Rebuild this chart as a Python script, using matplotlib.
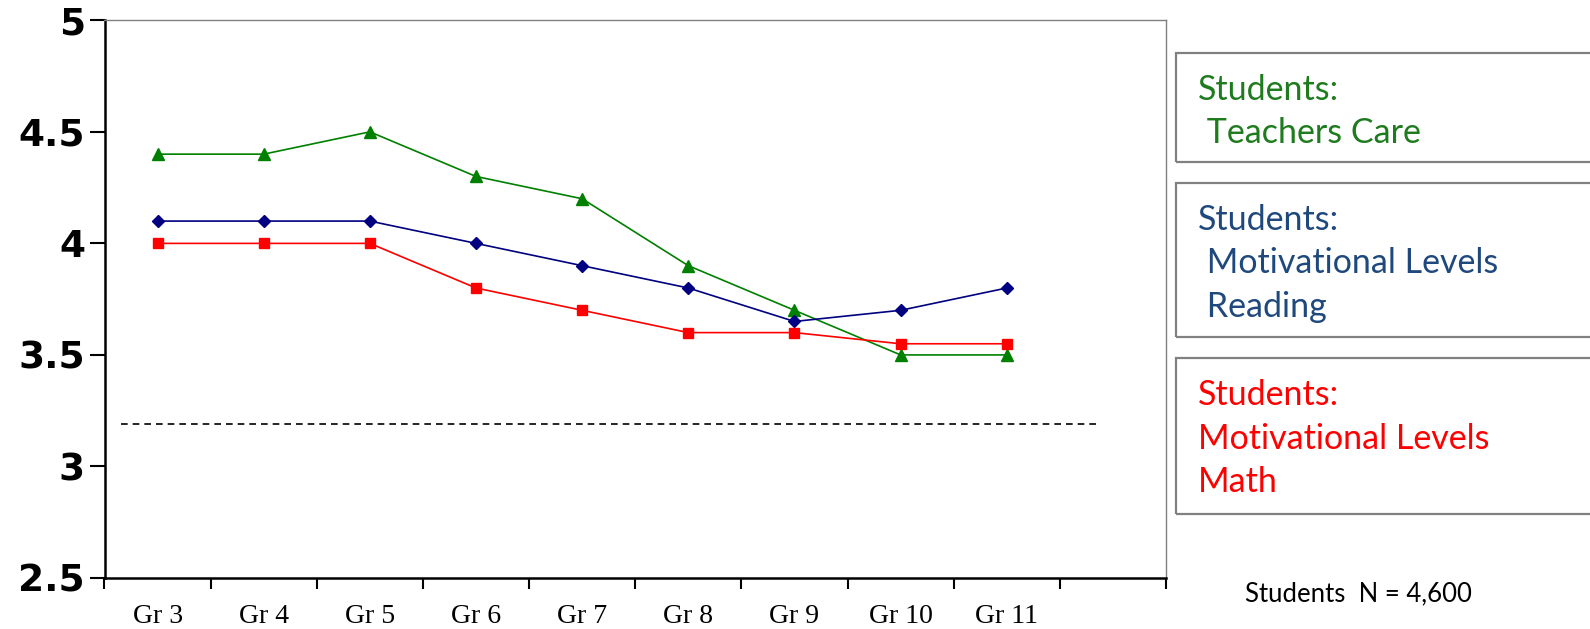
import matplotlib
matplotlib.use("Agg")
import matplotlib.pyplot as plt
from matplotlib.patches import Rectangle

grades = ["Gr 3", "Gr 4", "Gr 5", "Gr 6", "Gr 7", "Gr 8", "Gr 9", "Gr 10", "Gr 11"]
teachers_care = [4.4, 4.4, 4.5, 4.3, 4.2, 3.9, 3.7, 3.5, 3.5]
reading = [4.1, 4.1, 4.1, 4.0, 3.9, 3.8, 3.65, 3.7, 3.8]
math = [4.0, 4.0, 4.0, 3.8, 3.7, 3.6, 3.6, 3.55, 3.55]
reference_level = 3.19
y_ticks = [2.5, 3, 3.5, 4, 4.5, 5]
y_tick_labels = ["2.5", "3", "3.5", "4", "4.5", "5"]

W, H = 1590, 629
fig = plt.figure(figsize=(W / 100, H / 100), dpi=100)
ax = fig.add_axes([104.5 / W, 1 - 578 / H, (1166 - 104.5) / W, (578 - 20.3) / H])

x = list(range(len(grades)))
ax.plot(x, teachers_care, color="#008000", lw=1.2, marker="^", ms=8, zorder=3)
ax.plot(x, reading, color="#000080", lw=1.2, marker="D", ms=6, zorder=3)
ax.plot(x, math, color="#FF0000", lw=1.2, marker="s", ms=6.5, zorder=3)
ax.plot([-0.34, 8.86], [reference_level, reference_level], color="black",
        lw=1.2, ls=(0, (4, 3)), zorder=2)

ax.set_xlim(-0.5, 9.5)
ax.set_ylim(2.5, 5)
ax.set_yticks(y_ticks)
ax.set_yticklabels(y_tick_labels, fontsize=27, fontweight="bold", family="DejaVu Sans")
ax.set_xticks([i + 0.5 for i in range(-1, 10)])
ax.set_xticklabels([])
ax.set_xticks(x, minor=True)
ax.set_xticklabels(grades, minor=True, fontsize=20, family="Liberation Serif")
ax.tick_params(axis="x", which="major", length=8, width=1.5, direction="out")
ax.tick_params(axis="x", which="minor", length=0, pad=19)
ax.tick_params(axis="y", length=11, width=1.5, pad=3)
for s in ["left", "bottom"]:
    ax.spines[s].set_linewidth(1.8)
    ax.spines[s].set_color("black")
for s in ["top", "right"]:
    ax.spines[s].set_linewidth(1.0)
    ax.spines[s].set_color("#808080")

# legend boxes
boxes = [
    (52.7, 162.3, ["Students:", " Teachers Care"], "#1E7B1E"),
    (182.6, 336.8, ["Students:", " Motivational Levels", " Reading"], "#1F497D"),
    (358.0, 514.0, ["Students:", "Motivational Levels", "Math"], "#FF0000"),
]
for top, bot, lines, col in boxes:
    r = Rectangle((1176 / W, 1 - bot / H), (1600 - 1176) / W, (bot - top) / H,
                  transform=fig.transFigure, fill=False, edgecolor="#808080", lw=1.6)
    fig.add_artist(r)
    for i, ln in enumerate(lines):
        fig.text(1198 / W, 1 - (top + 37 + 43.6 * i) / H, ln, color=col,
                 fontsize=24.5, family="Lato", va="center", ha="left")

fig.text(1245 / W, 1 - 594 / H, "Students  N = 4,600", fontsize=18.5, family="Lato",
         va="center", ha="left", color="black")

fig.savefig("out.png", dpi=100)
